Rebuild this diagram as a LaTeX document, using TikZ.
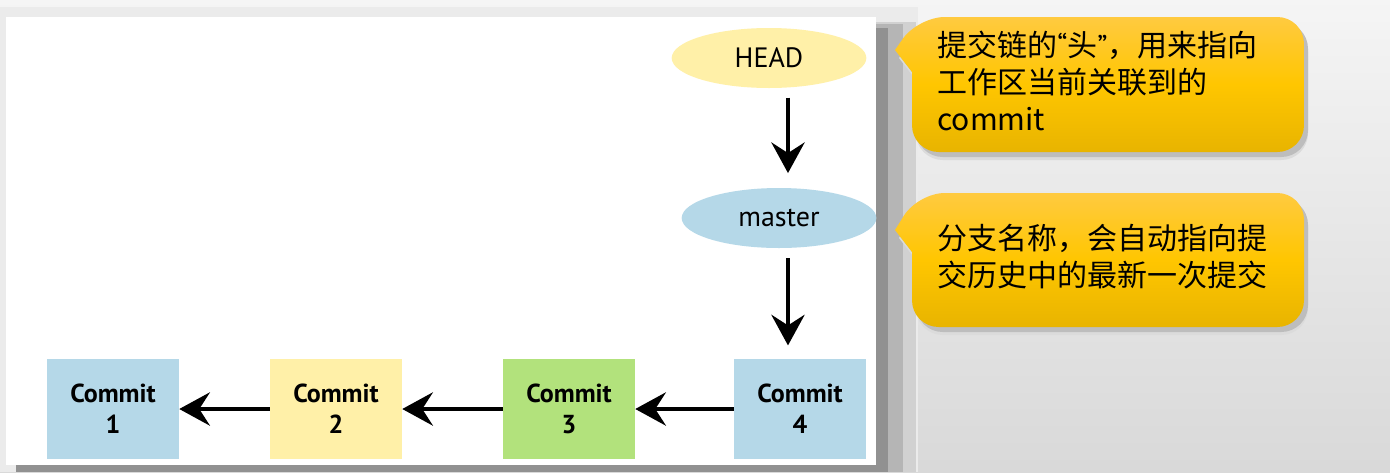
\documentclass[tikz,border=0pt]{standalone}
\usepackage{fontspec}
\setmainfont{PT Sans}
\newfontfamily\cjk{Noto Sans CJK SC}
\usetikzlibrary{arrows.meta,shapes.geometric}
\definecolor{cblue}{RGB}{181,216,232}
\definecolor{cyellow}{RGB}{255,240,168}
\definecolor{cgreen}{RGB}{178,226,124}
\definecolor{tiptop}{RGB}{255,202,64}
\definecolor{tipmid}{RGB}{255,198,0}
\definecolor{tipbot}{RGB}{232,180,0}
\begin{document}
\begin{tikzpicture}[x=0.75pt, y=-0.75pt, line join=round,
	>={Stealth[length=23pt,width=25pt,inset=8pt]},
	commit/.style={minimum width=99pt, minimum height=75pt, inner sep=0pt, align=center, font=\fontsize{19.5}{23}\selectfont\bfseries},
	ref/.style={ellipse, minimum width=146pt, minimum height=45pt, inner sep=0pt, font=\fontsize{21}{25}\selectfont},
	link/.style={->, line width=2.6pt},
	note/.style={top color=tiptop, bottom color=tipbot, middle color=tipmid},
	notetext/.style={anchor=north west, inner sep=0pt, align=left, font=\cjk\fontsize{22.5}{27.75}\selectfont}]
	\useasboundingbox (0,0) rectangle (1390,472);
	% background and panel
	\shade[top color=black!4, bottom color=black!15] (0,0) rectangle (1390,472);
	\fill[black!8] (0,7) rectangle (918,472);
	\fill[black!18] (16,22) rectangle (916,472);
	\fill[black!29] (16,24) rectangle (903,472);
	\fill[black!43] (16,28) rectangle (888,472);
	\fill[white] (6,17) rectangle (876,465);
	% callouts
	\foreach \dy/\tone in {8/14,5/26} {
		\fill[black!\tone] ([shift={(4,\dy)}]895,50) -- ([shift={(4,\dy)}]912,72) [rounded corners=20pt] -- ([shift={(4,\dy)}]912,152) -- ([shift={(4,\dy)}]1304,152) -- ([shift={(4,\dy)}]1304,17) -- ([shift={(4,\dy)}]918,17) [sharp corners] -- cycle;
		\fill[black!\tone] ([shift={(4,\dy)}]895,230) -- ([shift={(4,\dy)}]912,252) [rounded corners=20pt] -- ([shift={(4,\dy)}]912,327) -- ([shift={(4,\dy)}]1304,327) -- ([shift={(4,\dy)}]1304,193) -- ([shift={(4,\dy)}]918,193) [sharp corners] -- cycle;
	}
	\shade[note] (895,50) -- (912,72) [rounded corners=20pt] -- (912,152) -- (1304,152) -- (1304,17) -- (918,17) [sharp corners] -- cycle;
	\shade[note] (895,230) -- (912,252) [rounded corners=20pt] -- (912,327) -- (1304,327) -- (1304,193) -- (918,193) [sharp corners] -- cycle;
	\node[notetext] (headnote) at (937,31) {提交链的{\rmfamily“}头{\rmfamily”}，用来指向\\工作区当前关联到的\\commit};
	\node[notetext] (masternote) at (937,224) {分支名称，会自动指向提\\交历史中的最新一次提交};
	
	% refs and commits
	\node[ref, fill=cyellow] (HEAD) at (769,58) {HEAD};
	\node[ref, fill=cblue] (master) at (779,218) {master};
	\coordinate (col) at (788,0);
	\foreach \n/\x/\c in {1/113/cblue,2/336/cyellow,3/569/cgreen,4/800/cblue}
		\node[commit, fill=\c] (c\n) at (\x,409) {Commit\\\n};
	
	\draw[link, shorten <=7pt, shorten >=11pt] (HEAD.south -| col) -- (master.north -| col);
	\draw[link, shorten <=7.5pt, shorten >=10pt] (master.south -| col) -- (c4.north -| col);
	\draw[link] (c4) -- (c3);
	\draw[link] (c3) -- (c2);
	\draw[link] (c2) -- (c1);
\end{tikzpicture}
\end{document}
